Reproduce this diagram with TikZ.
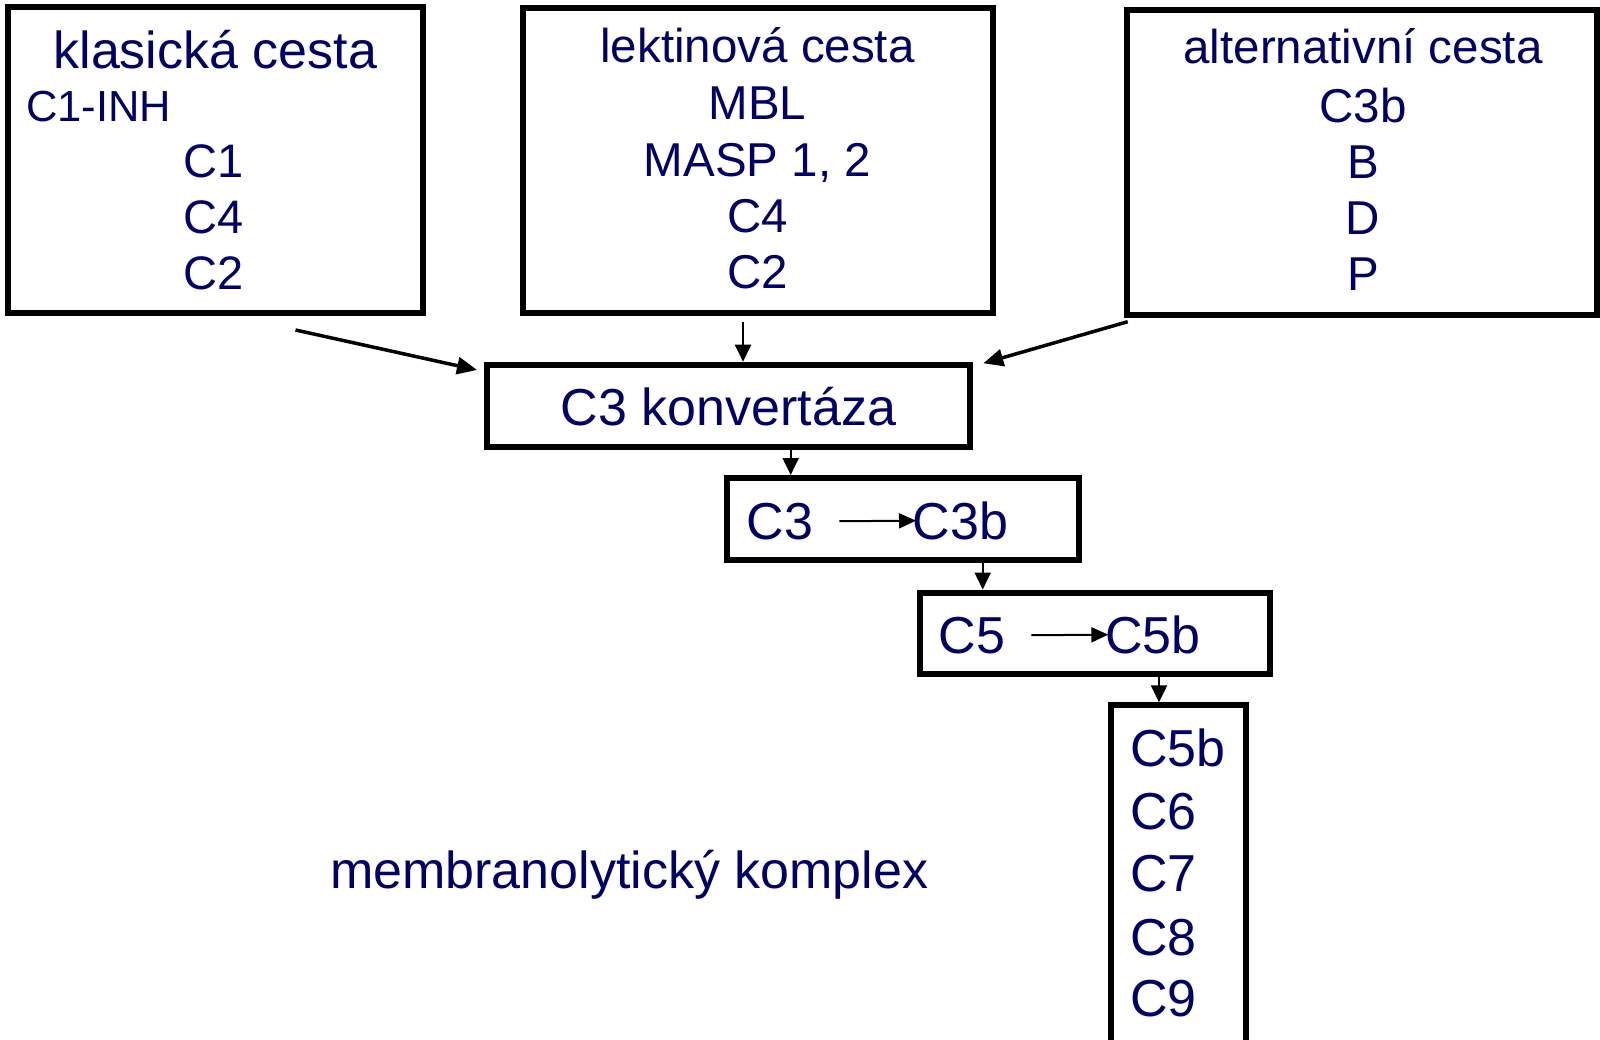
\documentclass[tikz,border=0pt]{standalone}
\usepackage{fontspec}
\setmainfont{Liberation Sans}
\usetikzlibrary{arrows.meta}
\definecolor{navy}{RGB}{0,0,102}
\begin{document}
\begin{tikzpicture}[x=1pt,y=-1pt,
  box/.style={draw=black, line width=6pt, inner sep=0pt, outer sep=0pt},
  tbig/.style={text=navy, inner sep=0pt, font=\fontsize{52}{60}\selectfont},
  tmid/.style={text=navy, inner sep=0pt, font=\fontsize{47.5}{56}\selectfont},
  tone/.style={text=navy, inner sep=0pt, font=\fontsize{47}{56}\selectfont},
  tsmall/.style={text=navy, inner sep=0pt, font=\fontsize{43.5}{52}\selectfont},
  arr/.style={-{Triangle[length=17pt,width=16pt]}, line width=2.2pt},
  darr/.style={-{Triangle[length=20pt,width=17pt]}, line width=3.5pt},
  iarr/.style={-{Triangle[length=17pt,width=15pt]}, line width=2pt}
]
\useasboundingbox (0,0) rectangle (1600,1040);
\fill[white] (0,0) rectangle (1600,1040);

% boxes
\node[box, minimum width=414.5pt, minimum height=305.7pt] (b1) at (215.25,159.85) {};
\node[box, minimum width=469.5pt, minimum height=305pt] (b2) at (757.75,160.5) {};
\node[box, minimum width=469.7pt, minimum height=305.6pt] (b3) at (1362.15,162.5) {};
\node[box, minimum width=483pt, minimum height=81.8pt] (k) at (728.8,405.6) {};
\node[box, minimum width=351.7pt, minimum height=82.3pt] (c3box) at (903.15,519.15) {};
\node[box, minimum width=350.6pt, minimum height=81.8pt] (c5box) at (1095,633.4) {};
\node[box, minimum width=135pt, minimum height=340.7pt] (mac) at (1178.8,875.65) {};

% box 1 texts
\node[tbig, anchor=base] (t1) at (215.3,68.3) {klasická cesta};
\node[tsmall, anchor=base west] (t1a) at (26.2,121.7) {C1-INH};
\node[tone, anchor=base west] (t1b) at (183.7,177.3) {C1};
\node[tone, anchor=base west] (t1c) at (183.7,233.3) {C4};
\node[tone, anchor=base west] (t1d) at (183.7,289.3) {C2};

% box 2 texts
\node[tmid, anchor=base] (t2) at (757.5,62.7) {lektinová cesta};
\node[tmid, anchor=base] (t2a) at (757.5,119.3) {MBL};
\node[tmid, anchor=base] (t2b) at (757.5,176.7) {MASP 1, 2};
\node[tmid, anchor=base] (t2c) at (757.5,232.7) {C4};
\node[tmid, anchor=base] (t2d) at (757.5,288.3) {C2};

% box 3 texts
\node[tmid, anchor=base] (t3) at (1363,64) {alternativní cesta};
\node[tmid, anchor=base] (t3a) at (1363,122.7) {C3b};
\node[tmid, anchor=base] (t3b) at (1363,179) {B};
\node[tmid, anchor=base] (t3c) at (1363,235) {D};
\node[tmid, anchor=base] (t3d) at (1363,291) {P};

% C3 konvertaza
\node[tbig, anchor=base] (tk) at (728.4,425) {C3 konvertáza};

% C3 -> C3b
\node[tbig, anchor=base west] (c3a) at (746.5,539.3) {C3};
\node[tbig, anchor=base west] (c3b) at (912.5,539.3) {C3b};
\draw[iarr, shorten <=26pt, shorten >=-3.5pt] (c3a.east) -- (c3b.west);

% C5 -> C5b
\node[tbig, anchor=base west] (c5a) at (938.5,653.3) {C5};
\node[tbig, anchor=base west] (c5b) at (1104.8,653.3) {C5b};
\draw[iarr, shorten <=26pt, shorten >=-3.5pt] (c5a.east) -- (c5b.west);

% membrane attack complex
\node[tbig, anchor=base west] (m1) at (1130,766.7) {C5b};
\node[tbig, anchor=base west] (m2) at (1130,829) {C6};
\node[tbig, anchor=base west] (m3) at (1130,891.7) {C7};
\node[tbig, anchor=base west] (m4) at (1130,955) {C8};
\node[tbig, anchor=base west] (m5) at (1130,1016.7) {C9};

\node[tbig, anchor=base west] (mk) at (330,888.3) {membranolytický komplex};

% connectors
\draw[darr] ([xshift=80.25pt,yshift=-17.3pt]b1.south) -- ([xshift=-10.3pt,yshift=-5.3pt]k.north west);
\draw[arr, shorten <=8.7pt, shorten >=3pt] ([xshift=-14.75pt]b2.south) -- ([xshift=14.2pt]k.north);
\draw[darr] ([xshift=0.4pt,yshift=-6.4pt]b3.south west) -- ([xshift=13pt,yshift=1.4pt]k.north east);
\draw[arr, shorten <=3pt, shorten >=3pt] ([xshift=61.9pt]k.south) -- ([xshift=-112.45pt]c3box.north);
\draw[arr, shorten <=3pt, shorten >=3pt] ([xshift=79.55pt]c3box.south) -- ([xshift=-112.3pt]c5box.north);
\draw[arr, shorten <=3pt, shorten >=3pt] ([xshift=64pt]c5box.south) -- ([xshift=-19.8pt]mac.north);
\end{tikzpicture}
\end{document}
